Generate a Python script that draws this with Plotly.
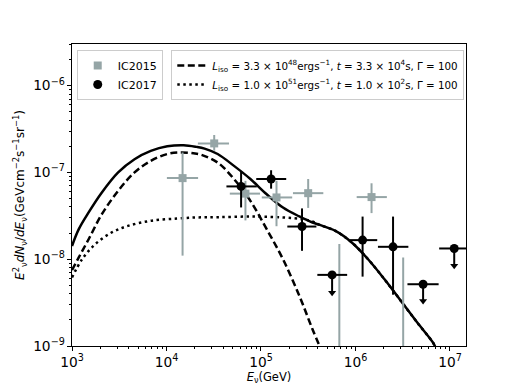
import plotly.graph_objects as go

# ---------------- data ----------------
# IceCube 2015 (grey squares)
ic15_E = [1.48e4, 3.2e4, 6.85e4, 1.46e5, 3.16e5, 6.75e5, 1.48e6, 3.2e6]
ic15_Elo = [1.01e4, 2.15e4, 4.68e4, 1.02e5, 2.18e5, 4.6e5, 1.03e6, 2.2e6]
ic15_Ehi = [2.16e4, 4.59e4, 9.77e4, 2.14e5, 4.57e5, 1.0e6, 2.15e6, 4.6e6]
ic15_F = [8.6e-8, 2.16e-7, 5.7e-8, 5.15e-8, 5.77e-8, 1.0e-10, 5.2e-8, 1.0e-10]
ic15_Flo = [1.1e-8, 1.78e-7, 2.8e-8, 2.4e-8, 3.9e-8, 1.0e-11, 3.4e-8, 1.0e-11]
ic15_Fhi = [1.7e-7, 2.7e-7, 8.0e-8, 8.0e-8, 8.4e-8, 1.5e-8, 7.5e-8, 1.05e-8]

# IceCube 2017 (black circles)
ic17_E = [6.16e4, 1.28e5, 2.72e5, 5.66e5, 1.19e6, 2.5e6, 5.2e6, 1.11e7]
ic17_Elo = [4.31e4, 8.91e4, 1.90e5, 3.95e5, 8.77e5, 1.73e6, 3.55e6, 7.69e6]
ic17_Ehi = [9.04e4, 1.85e5, 3.86e5, 8.17e5, 1.70e6, 3.63e6, 7.59e6, 1.6e7]
ic17_F = [6.9e-8, 8.4e-8, 2.38e-8, 6.6e-9, 1.66e-8, 1.39e-8, 5.15e-9, 1.33e-8]
ic17_Flo = [3.95e-8, 6.5e-8, 1.25e-8, 4.12e-9, 6.3e-9, 3.9e-9, 3.3e-9, 8.4e-9]
ic17_Fhi = [1.04e-7, 1.06e-7, 3.85e-8, 6.6e-9, 3.1e-8, 3.1e-8, 5.15e-9, 1.33e-8]
ic17_UL = [False, False, False, True, False, False, True, True]

# model curves
tot_E = [1.0e3, 1.18e3, 1.50e3, 2.07e3, 3.08e3, 4.59e3, 6.82e3, 1.02e4, 1.52e4,
         2.08e4, 2.53e4, 3.48e4, 5.18e4, 7.73e4, 1.15e5, 1.71e5, 2.55e5, 3.51e5,
         4.12e5, 6.14e5, 9.14e5, 1.36e6, 2.03e6, 3.03e6, 4.51e6, 6.70e6, 7.16e6]
tot_F = [1.42e-8, 2.22e-8, 3.46e-8, 5.87e-8, 1.0e-7, 1.42e-7, 1.77e-7, 2.0e-7, 2.06e-7,
         1.97e-7, 1.88e-7, 1.63e-7, 1.19e-7, 8.4e-8, 5.6e-8, 3.94e-8, 3.11e-8, 2.65e-8,
         2.5e-8, 2.12e-8, 1.56e-8, 1.0e-8, 5.87e-9, 3.3e-9, 1.86e-9, 1.07e-9, 9.1e-10]

dash_E = [1.0e3, 1.18e3, 1.50e3, 2.07e3, 3.08e3, 4.59e3, 6.82e3, 1.02e4, 1.40e4,
          1.93e4, 2.33e4, 3.48e4, 5.18e4, 7.73e4, 1.15e5, 1.71e5, 2.55e5, 3.51e5, 4.26e5]
dash_F = [7.5e-9, 1.05e-8, 1.70e-8, 3.30e-8, 6.14e-8, 1.0e-7, 1.36e-7, 1.63e-7, 1.70e-7,
          1.66e-7, 1.60e-7, 1.30e-7, 8.4e-8, 4.7e-8, 2.22e-8, 1.0e-8, 3.78e-9, 1.56e-9, 9.5e-10]

dot_E = [1.0e3, 1.28e3, 1.76e3, 2.62e3, 3.91e3, 6.82e3, 1.29e4, 2.08e4, 3.48e4,
         7.73e4, 1.71e5, 2.77e5, 3.51e5, 4.12e5, 6.14e5, 9.14e5, 1.36e6, 2.03e6,
         3.03e6, 4.51e6, 6.70e6, 7.16e6]
dot_F = [6.15e-9, 1.0e-8, 1.49e-8, 2.03e-8, 2.42e-8, 2.77e-8, 2.94e-8, 3.03e-8, 3.05e-8,
         3.1e-8, 3.03e-8, 2.89e-8, 2.72e-8, 2.5e-8, 2.12e-8, 1.56e-8, 1.0e-8, 5.87e-9,
         3.3e-9, 1.86e-9, 1.07e-9, 9.1e-10]

label_dash = ("<i>L</i><sub>iso</sub> = 3.3 × 10<sup>48</sup>ergs<sup>−1</sup>, "
              "<i>t</i> = 3.3 × 10<sup>4</sup>s, Γ = 100")
label_dot = ("<i>L</i><sub>iso</sub> = 1.0 × 10<sup>51</sup>ergs<sup>−1</sup>, "
             "<i>t</i> = 1.0 × 10<sup>2</sup>s, Γ = 100")

GREY = "#95a5a6"
FONT = "DejaVu Sans"

fig = go.Figure()

# curves
fig.add_trace(go.Scatter(x=tot_E, y=tot_F, mode="lines", showlegend=False,
                         line=dict(color="black", width=2.5, shape="spline")))
fig.add_trace(go.Scatter(x=dash_E, y=dash_F, mode="lines", name=label_dash, legend="legend2",
                         line=dict(color="black", width=2.5, dash="7px,3.5px", shape="spline")))
fig.add_trace(go.Scatter(x=dot_E, y=dot_F, mode="lines", name=label_dot, legend="legend2",
                         line=dict(color="black", width=2.5, dash="2.5px,3.5px", shape="spline")))

# IC2015
fig.add_trace(go.Scatter(
    x=ic15_E, y=ic15_F, mode="markers", name="IC2015",
    marker=dict(symbol="square", size=8, color=GREY),
    error_x=dict(type="data", symmetric=False,
                 array=[h - e for h, e in zip(ic15_Ehi, ic15_E)],
                 arrayminus=[e - l for l, e in zip(ic15_Elo, ic15_E)],
                 color=GREY, thickness=2, width=0),
    error_y=dict(type="data", symmetric=False,
                 array=[h - f for h, f in zip(ic15_Fhi, ic15_F)],
                 arrayminus=[f - l for l, f in zip(ic15_Flo, ic15_F)],
                 color=GREY, thickness=2, width=0),
))

# IC2017
fig.add_trace(go.Scatter(
    x=ic17_E, y=ic17_F, mode="markers", name="IC2017",
    marker=dict(symbol="circle", size=9, color="black"),
    error_x=dict(type="data", symmetric=False,
                 array=[h - e for h, e in zip(ic17_Ehi, ic17_E)],
                 arrayminus=[e - l for l, e in zip(ic17_Elo, ic17_E)],
                 color="black", thickness=2, width=0),
    error_y=dict(type="data", symmetric=False,
                 array=[h - f for h, f in zip(ic17_Fhi, ic17_F)],
                 arrayminus=[f - l for l, f in zip(ic17_Flo, ic17_F)],
                 color="black", thickness=2, width=0),
))
# upper-limit arrow heads
fig.add_trace(go.Scatter(
    x=[e for e, u in zip(ic17_E, ic17_UL) if u],
    y=[l for l, u in zip(ic17_Flo, ic17_UL) if u],
    mode="markers", showlegend=False,
    marker=dict(symbol="triangle-down", size=7, color="black"),
))

axis_common = dict(
    type="log", showline=True, mirror=True, linecolor="black", linewidth=1,
    ticks="outside", ticklen=4, tickwidth=1, tickcolor="black",
    showgrid=False, zeroline=False, dtick=1, exponentformat="power",
    automargin=True,
    tickfont=dict(family=FONT, size=11, color="black"),
    minor=dict(ticks="outside", ticklen=2, tickcolor="black", dtick="D1", showgrid=False),
)

# the page body adds an 8px offset, so margins are shifted accordingly
fig.update_layout(
    width=518, height=388,
    margin=dict(l=57, r=60, t=36, b=50),
    paper_bgcolor="white", plot_bgcolor="white",
    font=dict(family=FONT, size=11, color="black"),
    xaxis=dict(axis_common, range=[3, 7.17],
               title=dict(text="<i>E</i><sub>ν</sub>(GeV)", standoff=3,
                          font=dict(family=FONT, size=11.5))),
    yaxis=dict(axis_common, range=[-9, -5.52],
               title=dict(text="<i>E</i><sup>2</sup><sub>ν</sub><i>dN</i><sub>ν</sub>/<i>dE</i><sub>ν</sub>(GeVcm<sup>−2</sup>s<sup>−1</sup>sr<sup>−1</sup>)",
                          standoff=5, font=dict(family=FONT, size=12))),
    legend=dict(x=0.012, y=0.98, xanchor="left", yanchor="top",
                bgcolor="rgba(255,255,255,0.8)", bordercolor="#cccccc", borderwidth=1,
                font=dict(family=FONT, size=11), itemwidth=30, tracegroupgap=0),
    legend2=dict(x=0.252, y=0.98, xanchor="left", yanchor="top",
                 bgcolor="rgba(255,255,255,0.8)", bordercolor="#cccccc", borderwidth=1,
                 font=dict(family=FONT, size=10.3), itemwidth=30, tracegroupgap=0),
)

fig.write_html("out.html")
